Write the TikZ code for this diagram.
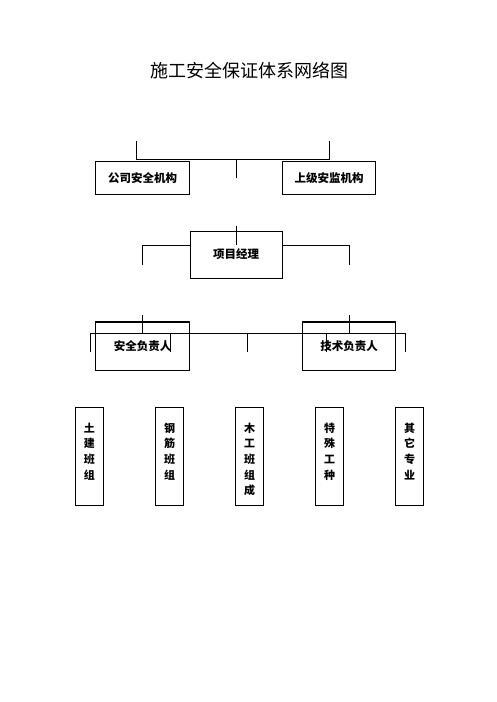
\documentclass[tikz,border=0pt]{standalone}
\usepackage{fontspec}
\newfontfamily\cjk{Noto Sans CJK SC}
\usetikzlibrary{positioning}

\begin{document}
\begin{tikzpicture}[x=1pt,y=-1pt,
  box/.style={draw,line width=0.8pt,inner sep=0pt,
    font=\cjk\bfseries\fontsize{11.5}{13}\selectfont},
  colbox/.style={draw,line width=0.8pt,minimum width=28pt,minimum height=98.3pt,
    inner sep=0pt,anchor=north},
  coltext/.style={inner sep=0pt,anchor=north,align=center,
    font=\cjk\bfseries\fontsize{11}{15.6}\selectfont},
  link/.style={line width=0.8pt},
  toprule/.style={line width=2pt}]
  \useasboundingbox (0,0) rectangle (496,702);

  \node (title) at (249,71) {\cjk\fontsize{18}{18}\selectfont 施工安全保证体系网络图};

  % first row
  \node[box,minimum width=93.6pt,minimum height=32.3pt] (gongsi) at (142.5,177.9) {公司安全机构};
  \node[box,minimum width=93.4pt,minimum height=32.3pt] (shangji) at (329,177.9) {上级安监机构};
  \coordinate (topL) at (136.7,141);
  \coordinate (topR) at (329,141);
  \coordinate (topM) at (236.7,159);
  \coordinate (topS) at (236.7,178);
  \draw[link] (topL) |- (topR |- topM) -- (topR);
  \draw[link] (topM) -- (topS);

  % project manager
  \node[box,minimum width=92.3pt,minimum height=47pt] (xiangmu) at (236.2,254.5) {项目经理};
  \coordinate (pmS) at (236.7,225.7);
  \coordinate (pmM) at (236.7,245);
  \coordinate (pmL) at (142.3,265);
  \coordinate (pmR) at (349.3,265);
  \draw[link] (pmS) -- (pmM);
  \draw[link] (pmL) |- (xiangmu.west |- pmM);
  \draw[link] (pmR) |- (xiangmu.east |- pmM);

  % persons in charge
  \node[box,minimum width=93.6pt,minimum height=47.3pt] (anquan) at (142.5,346.3) {安全负责人};
  \node[box,minimum width=93pt,minimum height=47.3pt] (jishu) at (349.2,346.3) {技术负责人};
  \draw[toprule] (anquan.north west) -- (anquan.north east);
  \draw[toprule] (jishu.north west) -- (jishu.north east);
  \coordinate (aqS) at (142.3,315);
  \coordinate (jsS) at (349.3,315);
  \coordinate (barL) at (90.7,333);
  \coordinate (barR) at (405,333);
  \draw[link] (aqS) -- (aqS |- barL);
  \draw[link] (jsS) -- (jsS |- barL);
  \draw[link] (barL) -- (barR);
  \foreach \x in {90.7,170,247.3,326.7,405}
    \draw[link] (\x,333) -- (\x,352);

  % teams
  \node[colbox] (tujian) at (89.3,406.7) {};
  \node[colbox] (gangjin) at (169.5,406.7) {};
  \node[colbox] (mugong) at (249.5,406.7) {};
  \node[colbox] (teshu) at (329.5,406.7) {};
  \node[colbox] (qita) at (409.5,406.7) {};
  \node[coltext,below=16pt of tujian.north] (tujiantext) {土\\建\\班\\组};
  \node[coltext,below=16pt of gangjin.north] (gangjintext) {钢\\筋\\班\\组};
  \node[coltext,below=16pt of mugong.north] (mugongtext) {木\\工\\班\\组\\成};
  \node[coltext,below=16pt of teshu.north] (teshutext) {特\\殊\\工\\种};
  \node[coltext,below=16pt of qita.north] (qitatext) {其\\它\\专\\业};
\end{tikzpicture}
\end{document}
